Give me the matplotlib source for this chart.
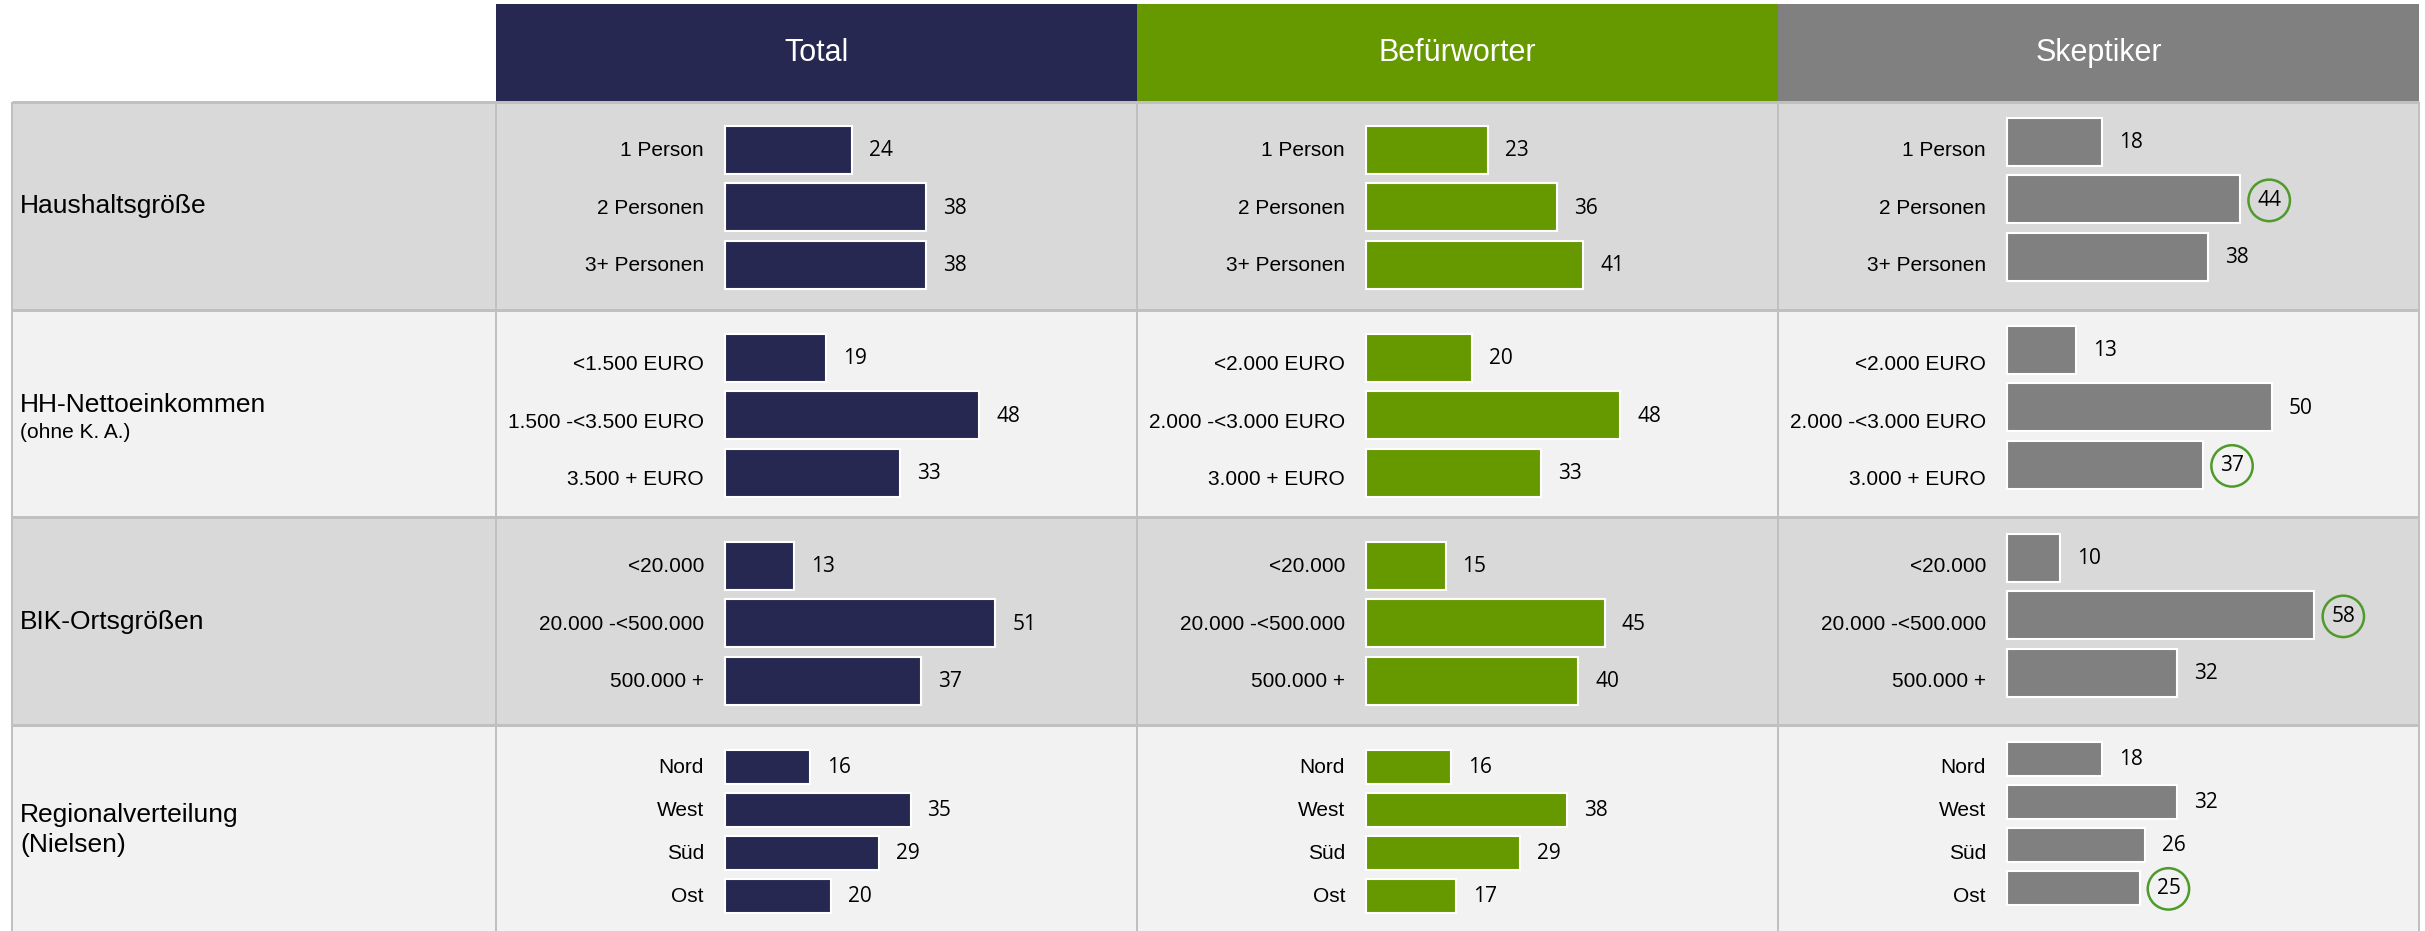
import matplotlib
matplotlib.use("Agg")
import matplotlib.pyplot as plt
from matplotlib.patches import Rectangle

plt.rcParams['font.family'] = ['Liberation Sans', 'DejaVu Sans']

# --- data ---
columns = ["Total", "Befürworter", "Skeptiker"]
column_colors = ["#262852", "#669900", "#808080"]

groups = ["Haushaltsgröße", "HH-Nettoeinkommen", "BIK-Ortsgrößen", "Regionalverteilung\n(Nielsen)"]
group_notes = ["", "(ohne K. A.)", "", ""]

household = ["1 Person", "2 Personen", "3+ Personen"]
income_total = ["<1.500 EURO", "1.500 -<3.500 EURO", "3.500 + EURO"]
income_groups = ["<2.000 EURO", "2.000 -<3.000 EURO", "3.000 + EURO"]
town_size = ["<20.000", "20.000 -<500.000", "500.000 +"]
regions = ["Nord", "West", "Süd", "Ost"]

total_values = [[24, 38, 38], [19, 48, 33], [13, 51, 37], [16, 35, 29, 20]]
pro_values = [[23, 36, 41], [20, 48, 33], [15, 45, 40], [16, 38, 29, 17]]
skeptic_values = [[18, 44, 38], [13, 50, 37], [10, 58, 32], [18, 32, 26, 25]]

# highlighted (circled) values in the Skeptiker column: (group, item)
skeptic_marked = [(0, 1), (1, 2), (2, 1), (3, 3)]

labels = [
    [household, income_total, town_size, regions],
    [household, income_groups, town_size, regions],
    [household, income_groups, town_size, regions],
]
values = [total_values, pro_values, skeptic_values]

# --- layout (pixels) ---
W, H = 2425, 931
col_x = [496, 1137, 1778, 2419]
row_y = [102, 310, 517, 725, 931]
row_mid = [207, 415, 623, 831]
row_bg = ["#d9d9d9", "#f2f2f2", "#d9d9d9", "#f2f2f2"]
line_col = "#c0c0c0"
ring_col = "#4e9b2b"
bar_gap = 229
px_per_unit = 5.3
pt = 0.72  # points per pixel at dpi 100

fig = plt.figure(figsize=(W / 100, H / 100), dpi=100)
bg = fig.add_axes([0, 0, 1, 1])
bg.set_xlim(0, W)
bg.set_ylim(H, 0)
bg.axis("off")

# header
for j, name in enumerate(columns):
    bg.add_patch(Rectangle((col_x[j], 4), col_x[j + 1] - col_x[j], 98,
                           facecolor=column_colors[j], edgecolor="none"))
    bg.text((col_x[j] + col_x[j + 1]) / 2, 61, name, color="white",
            fontsize=22, ha="center", va="baseline")

# row backgrounds and group names
for i, g in enumerate(groups):
    bg.add_patch(Rectangle((12, row_y[i]), col_x[-1] - 12, row_y[i + 1] - row_y[i],
                           facecolor=row_bg[i], edgecolor="none"))
for i, g in enumerate(groups):
    if group_notes[i]:
        bg.text(20, 405, g, fontsize=19, ha="left", va="center")
        bg.text(20, 433, group_notes[i], fontsize=15, ha="left", va="center")
    else:
        bg.text(20, row_mid[i] - 1, g, fontsize=19, ha="left", va="center",
                linespacing=1.35)

# grid lines
for y in row_y[:-1]:
    bg.plot([12, col_x[-1]], [y, y], color=line_col, lw=3 * pt, solid_capstyle="butt")
for x in [12] + col_x:
    bg.plot([x, x], [row_y[0], H], color=line_col, lw=2 * pt, solid_capstyle="butt")

# bar cells
for j in range(3):
    for i in range(4):
        cats = labels[j][i]
        vals = values[j][i]
        n = len(cats)
        step = 57.5 if n == 3 else 43.0
        bar_h = (48 if n == 3 else 34) / step
        half = 100 / step
        x0 = col_x[j] + bar_gap
        x1 = col_x[j + 1] - 10
        c = row_mid[i]
        ax = fig.add_axes([x0 / W, 1 - (c + 100) / H, (x1 - x0) / W, 200 / H])
        ax.set_xlim(0, (x1 - x0) / px_per_unit)
        mid = (n - 1) / 2
        shift = 8 / step if j == 2 else 0  # Skeptiker bars sit a bit higher
        ax.set_ylim(mid + shift + half, mid + shift - half)
        ax.axis("off")
        pos = list(range(n))
        ax.barh(pos, vals, height=bar_h, color=column_colors[j],
                edgecolor="white", linewidth=1.5, clip_on=False)
        lab_shift = (7 if i == 1 else 1) / step + shift
        for p, cat in zip(pos, cats):
            ax.annotate(cat, xy=(0, p + lab_shift), xycoords=("axes fraction", "data"),
                        xytext=(-21 * pt, 0), textcoords="offset points",
                        ha="right", va="center", fontsize=15)
        for p, v in zip(pos, vals):
            marked = j == 2 and (i, p) in skeptic_marked
            box = None
            if marked:
                box = dict(boxstyle="circle,pad=0.42", facecolor="none",
                           edgecolor=ring_col, linewidth=1.8)
            ax.annotate(str(v), xy=(v, p), xytext=(17 * pt, -1),
                        textcoords="offset points", ha="left", va="center",
                        fontsize=15, fontfamily="Open Sans", bbox=box)

fig.savefig("out.png", dpi=100)
